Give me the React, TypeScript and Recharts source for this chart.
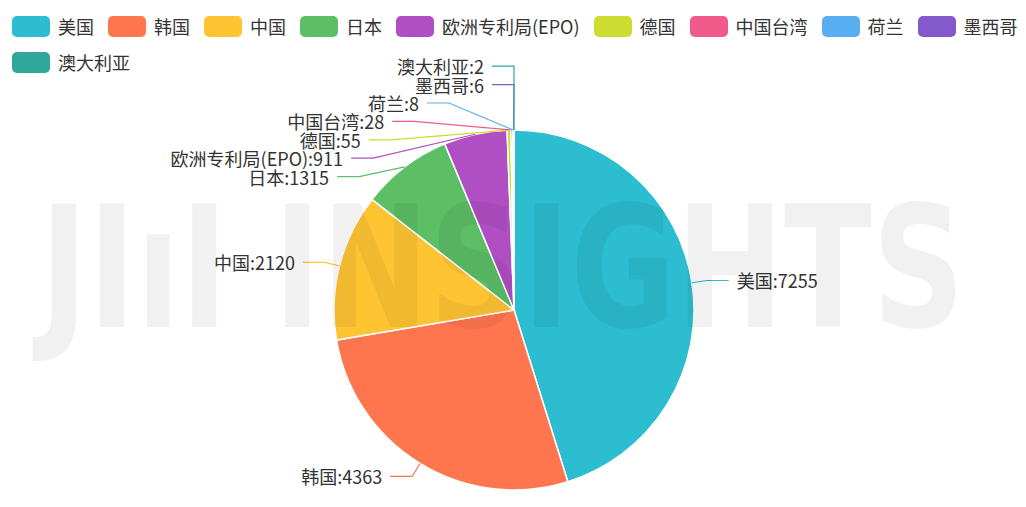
import React from "react";
import { PieChart, Pie, Cell } from "recharts";

// patent counts by filing office
const countries = [
  "美国",
  "韩国",
  "中国",
  "日本",
  "欧洲专利局(EPO)",
  "德国",
  "中国台湾",
  "荷兰",
  "墨西哥",
  "澳大利亚",
];
const patents = [7255, 4363, 2120, 1315, 911, 55, 28, 8, 6, 2];
const colors = [
  "#2CBDD0",
  "#FF764E",
  "#FFC432",
  "#5CBE65",
  "#B04FC4",
  "#CDDC31",
  "#F05B8C",
  "#58AEF0",
  "#8459C9",
  "#30A79B",
];

const data = countries.map((name, i) => ({ name, value: patents[i] }));

const FONT = '"Noto Sans CJK SC", "Noto Sans", sans-serif';
const RAD = Math.PI / 180;
const START = 90;
const LEN1 = 15;
const LEN2 = 22;
const GAP = 8;
const ROW = 18.4;

const total = patents.reduce((a, b) => a + b, 0);
const midAngles = (() => {
  let acc = 0;
  return patents.map((v) => {
    const m = START - (360 * (acc + v / 2)) / total;
    acc += v;
    return m;
  });
})();

interface LabelPos {
  dir: number;
  sx: number;
  sy: number;
  ex: number;
  ey: number;
  ny: number;
}

// echarts-like label placement: push overlapping labels apart, then slide them along an ellipse
function layoutLabels(cx: number, cy: number, r: number): LabelPos[] {
  const items: LabelPos[] = midAngles.map((a) => {
    const cos = Math.cos(a * RAD);
    const sin = Math.sin(a * RAD);
    return {
      dir: cos >= 0 ? 1 : -1,
      sx: cx + r * cos,
      sy: cy - r * sin,
      ex: cx + (r + LEN1) * cos,
      ey: cy - (r + LEN1) * sin,
      ny: cy - (r + LEN1) * sin,
    };
  });
  for (const dir of [1, -1]) {
    const side = items.filter((d) => d.dir === dir).sort((a, b) => a.ny - b.ny);
    let clusters = side.map((d) => ({ list: [d], y: d.ny }));
    let merged = true;
    while (merged) {
      merged = false;
      for (let k = 0; k < clusters.length - 1; k++) {
        const a = clusters[k];
        const b = clusters[k + 1];
        const aEnd = a.y + (a.list.length - 1) * ROW;
        if (b.y - aEnd < ROW) {
          const list = [...a.list, ...b.list];
          const mean = list.reduce((s, d) => s + d.ny, 0) / list.length;
          clusters.splice(k, 2, { list, y: mean - ((list.length - 1) * ROW) / 2 });
          merged = true;
          break;
        }
      }
    }
    const rA = r + LEN1;
    const rB = r * 1.22;
    clusters.forEach((c) => {
      if (c.list.length < 2) return;
      c.list.forEach((d, k) => {
        d.ey = c.y + k * ROW;
        const dy = d.ey - cy;
        d.ex = cx + dir * rA * Math.sqrt(Math.max(0, 1 - (dy * dy) / (rB * rB)));
      });
    });
  }
  return items;
}

const renderLabel = (p: any) => {
  const L = layoutLabels(p.cx, p.cy, p.outerRadius)[p.index];
  const lx = L.ex + L.dir * LEN2;
  const name = p.name ?? p.payload?.name;
  return (
    <g key={`lbl-${p.index}`}>
      <polyline
        points={`${L.sx},${L.sy} ${L.ex},${L.ey} ${lx},${L.ey}`}
        fill="none"
        stroke={colors[p.index]}
        strokeWidth={1.2}
      />
      <text
        x={lx + L.dir * GAP}
        y={L.ey}
        textAnchor={L.dir > 0 ? "start" : "end"}
        dominantBaseline="central"
        fontSize={18}
        fontFamily={FONT}
        fill="#333"
      >
        {`${name}:${p.value}`}
      </text>
    </g>
  );
};

export default function App() {
  return (
    <div
      style={{
        position: "absolute",
        left: 0,
        top: 0,
        width: 1026,
        height: 507,
        background: "#fff",
        fontFamily: FONT,
        overflow: "hidden",
      }}
    >
      <PieChart width={1026} height={507} margin={{ top: 0, right: 0, bottom: 0, left: 0 }}>
        <Pie
          data={data}
          dataKey="value"
          nameKey="name"
          cx={514}
          cy={310}
          outerRadius={180}
          startAngle={90}
          endAngle={-270}
          stroke="#fff"
          strokeWidth={1.5}
          label={renderLabel}
          labelLine={false}
          isAnimationActive={false}
        >
          {data.map((_, i) => (
            <Cell key={i} fill={colors[i]} />
          ))}
        </Pie>
      </PieChart>

      <svg
        width={1026}
        height={507}
        style={{ position: "absolute", left: 0, top: 0, pointerEvents: "none" }}
      >
        <text
          x={40}
          y={327}
          fontSize={170}
          fontWeight="bold"
          fontFamily='"DejaVu Sans", sans-serif'
          textLength={925}
          lengthAdjust="spacingAndGlyphs"
          fill="#000"
          fillOpacity={0.055}
        >
          JIıI INSIGHTS
        </text>
      </svg>

      <div
        style={{
          position: "absolute",
          left: 12,
          top: 8,
          width: 1040,
          display: "flex",
          flexWrap: "wrap",
        }}
      >
        {countries.map((c, i) => (
          <div
            key={c}
            style={{ display: "flex", alignItems: "center", height: 36, marginRight: 14 }}
          >
            <span
              style={{
                width: 38,
                height: 21,
                borderRadius: 5,
                background: colors[i],
                marginRight: 8,
              }}
            />
            <span style={{ fontSize: 18, color: "#333", lineHeight: "36px" }}>{c}</span>
          </div>
        ))}
      </div>
    </div>
  );
}
